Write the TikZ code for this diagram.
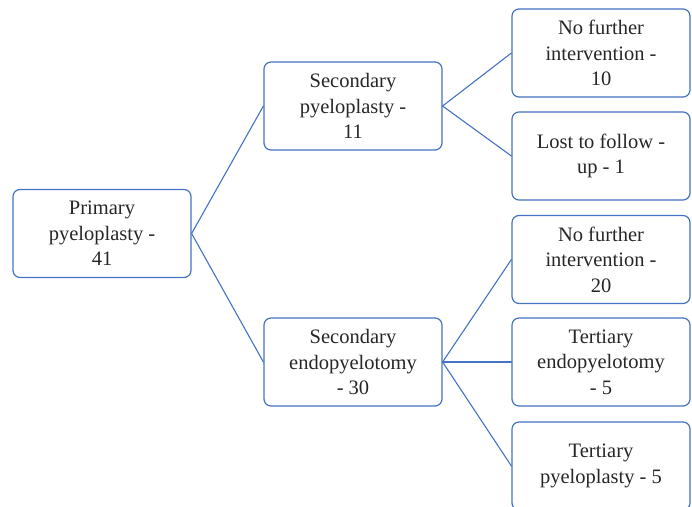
\documentclass[tikz,border=0pt]{standalone}
\usepackage{fontspec}
\setmainfont{Liberation Serif}
\usetikzlibrary{positioning}
\definecolor{boxblue}{RGB}{68,114,196}
\tikzset{
  box/.style={draw=boxblue,line width=1.2pt,rounded corners=7pt,
    minimum width=178pt,minimum height=88pt,align=center,
    text=black!85,font=\fontsize{20.5}{25.5}\selectfont},
  link/.style={draw=boxblue,line width=1.1pt}
}
\begin{document}
\begin{tikzpicture}[x=1pt,y=-1pt,line cap=round,line join=round]
		\useasboundingbox (0,0) rectangle (692,506);
		\clip (0,0) rectangle (692,506);
		% first level
		\node[box] (prim) at (102,233.5) {Primary\\pyeloplasty -\\41};
		% second level
		\node[box] (secpyel) at (353,106) {Secondary\\pyeloplasty -\\11};
		\node[box] (secendo) at (353,362) {Secondary\\endopyelotomy\\- 30};
		% third level
		\node[box] (nofurtherA) at (601,53) {No further\\intervention -\\10};
		\node[box] (lost) at (601,156) {Lost to follow -\\up - 1};
		\node[box] (nofurtherB) at (601,259.5) {No further\\intervention -\\20};
		\node[box] (tertendo) at (601,362) {Tertiary\\endopyelotomy\\- 5};
		\node[box] (tertpyel) at (601,466) {Tertiary\\pyeloplasty - 5};
		% connectors
		\draw[link] (prim.east) -- (secpyel.west);
		\draw[link] (prim.east) -- (secendo.west);
		\draw[link] (secpyel.east) -- (nofurtherA.west);
		\draw[link] (secpyel.east) -- (lost.west);
		\draw[link] (secendo.east) -- (nofurtherB.west);
		\draw[link] (secendo.east) -- (tertendo.west);
		\draw[link] (secendo.east) -- (tertpyel.west);
	\end{tikzpicture}
\end{document}
